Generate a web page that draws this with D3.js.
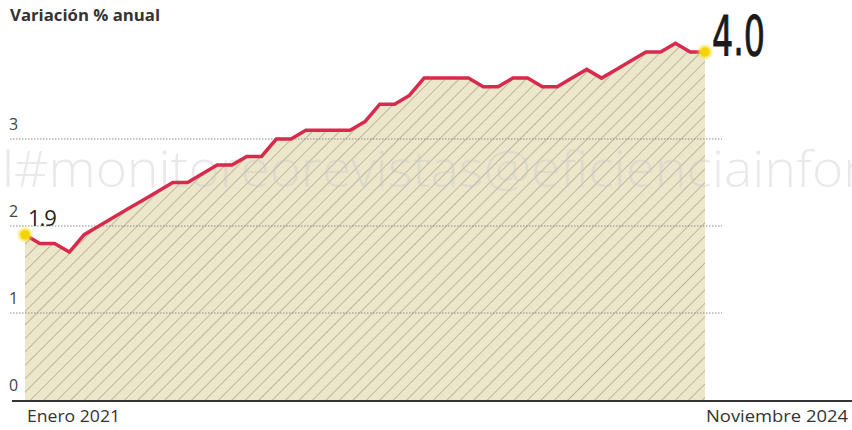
<!DOCTYPE html>
<html>
<head>
<meta charset="utf-8">
<script src="https://cdn.jsdelivr.net/npm/d3@7"></script>
<style>
  body { margin: 0; background: #fff; }
  svg { display: block; font-family: "Open Sans", "Noto Sans", sans-serif; }
</style>
</head>
<body>
<div id="chart"></div>
<script>
// monthly values, Jan 2021 .. Nov 2024
const values = [1.9, 1.8, 1.8, 1.7, 1.9, 2.0, 2.1, 2.2, 2.3, 2.4, 2.5, 2.5,
                2.6, 2.7, 2.7, 2.8, 2.8, 3.0, 3.0, 3.1, 3.1, 3.1, 3.1, 3.2,
                3.4, 3.4, 3.5, 3.7, 3.7, 3.7, 3.7, 3.6, 3.6, 3.7, 3.7, 3.6,
                3.6, 3.7, 3.8, 3.7, 3.8, 3.9, 4.0, 4.0, 4.1, 4.0, 4.0];
const yTicks = [0, 1, 2, 3];
const xLabels = ["Enero 2021", "Noviembre 2024"];
const title = "Variación % anual";
const watermark = "l#monitoreorevistas@eficienciainfor";

const width = 852, height = 430;

const svg = d3.select("#chart")
  .append("svg")
  .attr("width", width)
  .attr("height", height);

const x = d3.scaleLinear().domain([0, values.length - 1]).range([25, 705]);
const y = d3.scaleLinear().domain([0, 4]).range([400, 52]);

// hatch pattern for the area
const defs = svg.append("defs");
const pat = defs.append("pattern")
  .attr("id", "hatch")
  .attr("patternUnits", "userSpaceOnUse")
  .attr("width", 9.5)
  .attr("height", 9.5)
  .attr("patternTransform", "rotate(45)");
pat.append("rect").attr("width", 9.5).attr("height", 9.5).attr("fill", "#ece7cb");
pat.append("line")
  .attr("x1", 0).attr("y1", 0).attr("x2", 0).attr("y2", 9.5)
  .attr("stroke", "#9a9886").attr("stroke-width", 1.2);

const glow = defs.append("filter").attr("id", "glow")
  .attr("x", "-100%").attr("y", "-100%").attr("width", "300%").attr("height", "300%");
glow.append("feGaussianBlur").attr("stdDeviation", 1.6);

// title
svg.append("text")
  .attr("x", 10)
  .attr("y", 21)
  .attr("fill", "#333")
  .attr("textLength", 150)
  .attr("lengthAdjust", "spacingAndGlyphs")
  .style("font-size", "16px")
  .style("font-weight", 700)
  .text(title);

// area
const area = d3.area()
  .x((d, i) => x(i))
  .y0(y(0))
  .y1(d => y(d));

svg.append("path")
  .datum(values)
  .attr("d", area)
  .attr("fill", "url(#hatch)");

// grid lines + tick labels
const grid = svg.append("g").attr("class", "grid");
grid.selectAll("line")
  .data(yTicks.filter(d => d > 0))
  .join("line")
  .attr("x1", 10)
  .attr("x2", 722)
  .attr("y1", d => y(d))
  .attr("y2", d => y(d))
  .attr("stroke", "#8a8a8a")
  .attr("stroke-width", 1)
  .attr("stroke-dasharray", "1.5,1.5");

grid.selectAll("text")
  .data(yTicks)
  .join("text")
  .attr("x", 9)
  .attr("y", d => y(d) - 9)
  .attr("fill", "#444")
  .style("font-size", "16px")
  .text(d => d);

// watermark, sits over the area
svg.append("text")
  .attr("x", 2)
  .attr("y", 187)
  .attr("fill", "#c8c8c8")
  .attr("fill-opacity", 0.4)
  .attr("textLength", 862)
  .attr("lengthAdjust", "spacingAndGlyphs")
  .style("font-size", "50px")
  .style("font-weight", 300)
  .text(watermark);

// line
const line = d3.line()
  .x((d, i) => x(i))
  .y(d => y(d));

svg.append("path")
  .datum(values)
  .attr("d", line)
  .attr("fill", "none")
  .attr("stroke", "#d72a4c")
  .attr("stroke-width", 3.5)
  .attr("stroke-linejoin", "miter");

// baseline axis
svg.append("line")
  .attr("x1", 12)
  .attr("x2", width)
  .attr("y1", 401)
  .attr("y2", 401)
  .attr("stroke", "#333")
  .attr("stroke-width", 2);

svg.append("text")
  .attr("x", 27)
  .attr("y", 422)
  .attr("fill", "#333")
  .attr("textLength", 93)
  .attr("lengthAdjust", "spacingAndGlyphs")
  .style("font-size", "16px")
  .text(xLabels[0]);

svg.append("text")
  .attr("x", 706)
  .attr("y", 422)
  .attr("fill", "#333")
  .attr("textLength", 142)
  .attr("lengthAdjust", "spacingAndGlyphs")
  .style("font-size", "16px")
  .text(xLabels[1]);

// end points
const ends = [0, values.length - 1];
const dots = svg.append("g");
dots.selectAll("circle.g")
  .data(ends)
  .join("circle")
  .attr("class", "g")
  .attr("cx", i => x(i))
  .attr("cy", i => y(values[i]))
  .attr("r", 6.5)
  .attr("fill", "#f6df3a")
  .attr("filter", "url(#glow)");
dots.selectAll("circle.c")
  .data(ends)
  .join("circle")
  .attr("class", "c")
  .attr("cx", i => x(i))
  .attr("cy", i => y(values[i]))
  .attr("r", 4.5)
  .attr("fill", "#f4d400");

// value labels
svg.append("text")
  .attr("x", x(0) + 3)
  .attr("y", y(values[0]) - 9)
  .attr("fill", "#222")
  .style("font-size", "22px")
  .style("letter-spacing", "-1px")
  .text(values[0].toFixed(1));

svg.append("text")
  .attr("x", x(values.length - 1) + 7)
  .attr("y", y(values[values.length - 1]) + 3)
  .attr("fill", "#1a1a1a")
  .attr("stroke", "#1a1a1a")
  .attr("stroke-width", 0.9)
  .attr("textLength", 53)
  .attr("lengthAdjust", "spacingAndGlyphs")
  .style("font-size", "55px")
  .style("font-family", "'Liberation Sans Narrow', 'DejaVu Sans Condensed', sans-serif")
  .text(values[values.length - 1].toFixed(1));
</script>
</body>
</html>
